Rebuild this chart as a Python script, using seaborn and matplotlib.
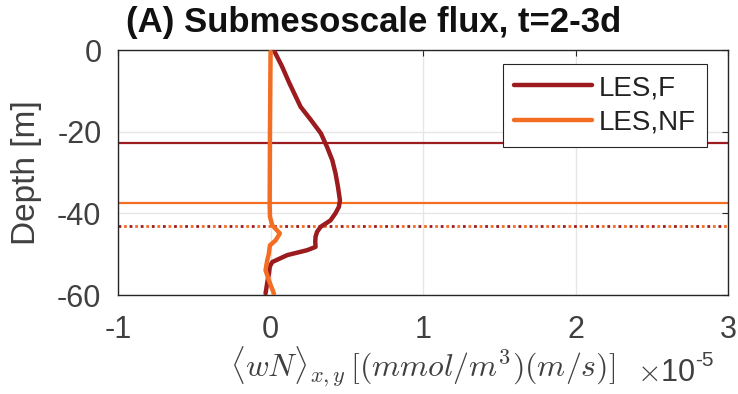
import numpy as np
import pandas as pd
import matplotlib
matplotlib.use("Agg")
import matplotlib.pyplot as plt
import seaborn as sns

# flux profiles, x in units of 1e-5 (mmol/m^3)(m/s)
depth_f = [-0.4, -4, -8, -11, -13.9, -17, -20.4, -23.7, -27, -30.2, -33.5, -36.8, -38.4,
           -40, -41.7, -43.3, -44.5, -45.7, -47, -48.2, -49, -50.2, -51.9, -53, -54.7, -57, -59.6]
flux_f = [0.026, 0.075, 0.122, 0.16, 0.197, 0.262, 0.33, 0.37, 0.405, 0.426, 0.442, 0.455, 0.448,
          0.425, 0.393, 0.328, 0.305, 0.295, 0.293, 0.295, 0.24, 0.11, 0.011, -0.005, -0.011, -0.022, -0.033]

depth_nf = [-0.4, -10, -20, -30, -38, -40.8, -42.9, -44.9, -46.6, -47.8, -50, -51.5,
            -53.9, -56.4, -58, -59.6]
flux_nf = [0.0, -0.002, -0.004, -0.005, -0.006, -0.004, 0.011, 0.061, 0.033, -0.004, -0.012, -0.022,
           -0.033, -0.011, 0.005, 0.022]

runs = ["LES,F", "LES,NF"]
mld_red = -22.8      # horizontal reference depths
mld_orange = -37.5
mld_dotted = -43.1

red = "#9b1b1e"
orange = "#f36d22"
txt = "#404040"

df = pd.concat([
    pd.DataFrame({"depth": depth_f, "flux": flux_f, "run": runs[0]}),
    pd.DataFrame({"depth": depth_nf, "flux": flux_nf, "run": runs[1]}),
])

sns.set_style("white")
plt.rcParams["font.family"] = ["Liberation Sans", "DejaVu Sans"]
plt.rcParams["mathtext.fontset"] = "cm"

fig = plt.figure(figsize=(7.38, 3.94), dpi=100)
ax = fig.add_axes([0.16, 0.251, 0.8265, 0.622])

ax.grid(True, color="#e6e6e6", linewidth=1.0, zorder=0)

ax.axhline(mld_red, color=red, lw=1.6, zorder=2)
ax.axhline(mld_orange, color=orange, lw=1.6, zorder=2)
ax.axhline(mld_dotted, color=red, lw=2.0, linestyle=(0, (1, 3)), zorder=2)
ax.axhline(mld_dotted, color=orange, lw=2.0, linestyle=(2, (1, 3)), zorder=2)

sns.lineplot(data=df, x="flux", y="depth", hue="run", palette=[red, orange],
             sort=False, estimator=None, lw=3.2, ax=ax, zorder=3)

ax.set_xlim(-1, 3)
ax.set_ylim(-60, 0)
ax.set_xticks([-1, 0, 1, 2, 3])
ax.set_yticks([-60, -40, -20, 0])
ax.set_xticklabels(["-1", "0", "1", "2", "3"])
ax.set_yticklabels(["-60", "-40", "-20", "0"])

for s in ax.spines.values():
    s.set_color("#262626")
    s.set_linewidth(1.0)
ax.tick_params(direction="in", length=4, width=0.8, colors="#262626",
               labelcolor=txt, labelsize=22, top=True, right=True)
ax.tick_params(axis="x", pad=14)
ax.tick_params(axis="y", pad=12)

ax.set_ylabel("Depth [m]", fontsize=24, color=txt)
ax.yaxis.set_label_coords(-0.125, 0.5)
ax.set_xlabel(r"$\langle wN\rangle_{x,y}\,[(mmol/m^3)(m/s)]$", fontsize=23, color=txt)
ax.xaxis.set_label_coords(0.5, -0.2)
fig.text(637 / 738, 1 - 373 / 394, r"$\times$10", fontsize=22, color=txt, ha="left", va="center")
fig.text(695 / 738, 1 - 360 / 394, "-5", fontsize=15, color=txt, ha="left", va="center")

fig.text(374 / 738, 0.944, "(A) Submesoscale flux, t=2-3d", fontsize=25, fontweight="bold",
         ha="center", va="center", color="#111111")

leg = ax.legend(loc="upper right", bbox_to_anchor=(0.9656, 0.943), fontsize=20,
                frameon=True, fancybox=False, edgecolor="#262626", framealpha=1,
                handlelength=2.8, borderpad=0.4, labelspacing=0.3, handletextpad=0.25,
                borderaxespad=0)
leg.get_frame().set_linewidth(0.8)
for line in leg.get_lines():
    line.set_linewidth(3.2)
for t in leg.get_texts():
    t.set_color("#222222")

fig.savefig("out.png", dpi=100)
